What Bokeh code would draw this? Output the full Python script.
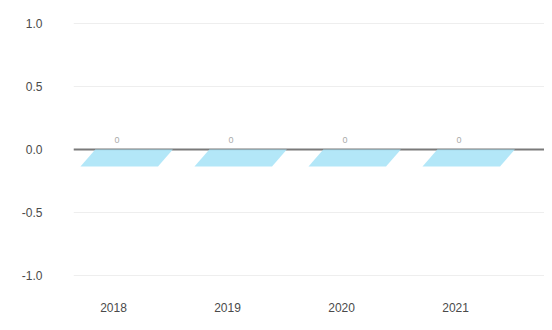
from bokeh.plotting import figure
from bokeh.models import ColumnDataSource, FixedTicker, Range1d, Span
from bokeh.core.properties import value
from bokeh.embed import file_html
from bokeh.resources import INLINE

years = ["2018", "2019", "2020", "2021"]
values = [0, 0, 0, 0]
y_ticks = [-1.0, -0.5, 0.0, 0.5, 1.0]

# style constants for the flat 3D top face of each column
half_w = 0.34
shift = 0.05
skew = 0.13
depth = 0.135

idx = list(range(len(years)))
xs = [[i + shift - half_w, i + shift + half_w, i + shift + half_w + skew, i + shift - half_w + skew] for i in idx]
ys = [[v - depth, v - depth, v, v] for v in values]

p = figure(width=544, height=314, output_backend="svg", toolbar_location=None,
           x_range=Range1d(-0.351, 3.78), y_range=Range1d(-1.133, 1.117),
           min_border_left=73, min_border_right=0, min_border_top=8, min_border_bottom=10)
p.outline_line_color = None
p.background_fill_color = "white"

p.xgrid.grid_line_color = None
p.ygrid.grid_line_color = "#eeeeee"
p.ygrid.grid_line_width = 1

p.yaxis.ticker = FixedTicker(ticks=y_ticks)
p.yaxis.major_label_overrides = {t: f"{t:.1f}" for t in y_ticks}
p.xaxis.ticker = FixedTicker(ticks=idx)
p.xaxis.major_label_overrides = {i: y for i, y in zip(idx, years)}

for ax in (p.xaxis[0], p.yaxis[0]):
    ax.axis_line_color = None
    ax.major_tick_line_color = None
    ax.minor_tick_line_color = None
    ax.major_label_text_color = "#4a4a4a"
    ax.major_label_text_font = "Liberation Sans"
    ax.major_label_text_font_size = "12px"
p.yaxis.major_label_standoff = 25
p.xaxis.major_label_standoff = 4

zero = Span(location=0, dimension="width", line_color="#7a7a7a", line_width=2, level="underlay")
p.add_layout(zero)

src = ColumnDataSource(dict(xs=xs, ys=ys))
p.patches("xs", "ys", source=src, fill_color="#abe4f7", fill_alpha=0.9, line_color=None)

lab = ColumnDataSource(dict(x=[i + 0.03 for i in idx], y=values, t=[str(v) for v in values]))
p.text("x", "y", text="t", source=lab, text_align="center", text_baseline="bottom",
       y_offset=-6, text_font=value("Liberation Sans"), text_font_size="9px", text_color="#aaaaaa")

open("out.html", "w").write(file_html(p, INLINE))
